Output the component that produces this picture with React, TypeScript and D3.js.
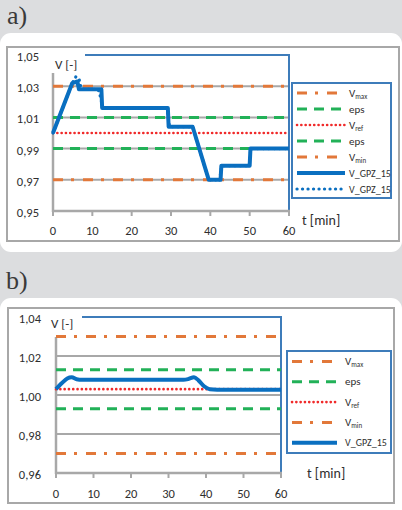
import React from "react";
import * as d3 from "d3";

// ---------- data ----------
const xTicks = [0, 10, 20, 30, 40, 50, 60];
const timeDomain: [number, number] = [0, 60];

// chart a
const yTicksA = [0.95, 0.97, 0.99, 1.01, 1.03, 1.05];
const yLabelsA = ["0,95", "0,97", "0,99", "1,01", "1,03", "1,05"];
const levelsA = [1.03, 1.01, 1.0, 0.99, 0.97];
const tA1 = [0, 4.9, 6.2, 6.6, 12.3, 12.5, 29.2, 29.4, 35.5, 39.6, 42.6, 42.8, 50.0, 50.2, 60];
const vA1 = [1.0, 1.032, 1.033, 1.028, 1.028, 1.016, 1.016, 1.004, 1.004, 0.97, 0.97, 0.979, 0.979, 0.99, 0.99];
const tA2 = [0, 4.9, 5.8, 6.6, 7.2, 11.5, 12.2, 12.6, 29.0, 29.3, 29.6, 35.5, 39.6, 41.5, 42.3, 42.9, 49.9, 50.1, 50.3, 60];
const vA2 = [1.0, 1.032, 1.036, 1.035, 1.028, 1.028, 1.022, 1.016, 1.016, 1.01, 1.004, 1.004, 0.97, 0.97, 0.969, 0.979, 0.979, 0.985, 0.99, 0.99];
const legendA = ["Vmax", "eps", "Vref", "eps", "Vmin", "V_GPZ_15", "V_GPZ_15"];

// chart b
const yTicksB = [0.96, 0.98, 1.0, 1.02, 1.04];
const yLabelsB = ["0,96", "0,98", "1,00", "1,02", "1,04"];
const levelsB = [1.03, 1.013, 1.003, 0.993, 0.97];
const tB = [0, 1.5, 3, 4.2, 5.5, 7, 20, 34, 35.3, 36.8, 38, 39.5, 41, 45, 60];
const vB = [1.003, 1.006, 1.0085, 1.0091, 1.0081, 1.0078, 1.0078, 1.0078, 1.0082, 1.0091, 1.0075, 1.0045, 1.003, 1.0027, 1.0027];
const legendB = ["Vmax", "eps", "Vref", "Vmin", "V_GPZ_15"];

// ---------- styles ----------
const ORANGE = "#e2783a";
const GREEN = "#22b158";
const RED = "#f02a2a";
const BLUE = "#0a6fc0";
const BORDER_BLUE = "#3e7cba";
const GRID = "#a8a8a8";
const FONT = "Carlito, Lato, 'Open Sans', sans-serif";
const TEXT = "#2e2e2e";

type LineStyle = { stroke: string; width: number; dash?: string; cap?: "round" | "butt" };
const styleFor: Record<string, LineStyle> = {
  Vmax: { stroke: ORANGE, width: 3, dash: "10 8 3 9" },
  Vmin: { stroke: ORANGE, width: 3, dash: "10 8 3 9" },
  eps: { stroke: GREEN, width: 3, dash: "10 7" },
  Vref: { stroke: RED, width: 2.6, dash: "0.1 4.2", cap: "round" },
  solid: { stroke: BLUE, width: 4 },
  dotted: { stroke: BLUE, width: 3.2, dash: "0.1 5.4", cap: "round" },
};

type Cfg = {
  frame: [number, number, number, number];
  x0: number; x1: number; yTop: number; yBot: number;
  yDomain: [number, number];
  yTicks: number[]; yLabels: string[];
  levels: number[]; levelNames: string[];
  series: { t: number[]; v: number[]; style: string }[];
  curve: d3.CurveFactory;
  axisStartY: number; borderStartX: number;
  vLabel: [number, number]; tLabel: [number, number];
  yLabelX: number; xLabelDy: number;
  legend: { x: number; y: number; w: number; h: number; row0: number; step: number; s0: number; s1: number; tx: number; names: string[]; styles: string[] };
};

function LegendText({ name, x, y }: { name: string; x: number; y: number }) {
  const m = name.match(/^V(max|min|ref)$/);
  if (m) {
    return (
      <text x={x} y={y} fontFamily={FONT} fontSize={11} fill={TEXT} dominantBaseline="central">
        V<tspan fontSize={7} dy={2.5}>{m[1]}</tspan>
      </text>
    );
  }
  return (
    <text x={x} y={y} fontFamily={FONT} fontSize={name === "eps" ? 11 : 10} fill={TEXT} dominantBaseline="central">
      {name}
    </text>
  );
}

function Chart({ c }: { c: Cfg }) {
  const x = d3.scaleLinear().domain(timeDomain).range([c.x0, c.x1]);
  const y = d3.scaleLinear().domain(c.yDomain).range([c.yBot, c.yTop]);
  const line = d3.line<[number, number]>().x((d) => x(d[0])).y((d) => y(d[1]));
  const cline = d3.line<[number, number]>().x((d) => x(d[0])).y((d) => y(d[1])).curve(c.curve);
  const [fx, fy, fw, fh] = c.frame;
  const sw = (s: LineStyle) => ({
    stroke: s.stroke,
    strokeWidth: s.width,
    strokeDasharray: s.dash,
    strokeLinecap: s.cap ?? "butt",
    fill: "none",
  });
  return (
    <g>
      <rect x={fx} y={fy} width={fw} height={fh} fill="#fff" stroke={GRID} strokeWidth={2} />
      {c.yTicks.slice(1, -1).map((v) => (
        <line key={v} x1={c.x0} x2={c.x1} y1={y(v)} y2={y(v)} stroke={GRID} strokeWidth={2} />
      ))}
      <polyline
        points={`${c.borderStartX},${c.yTop} ${c.x1},${c.yTop} ${c.x1},${c.yBot}`}
        fill="none"
        stroke={BORDER_BLUE}
        strokeWidth={2}
      />
      <line x1={c.x0} x2={c.x0} y1={c.axisStartY} y2={c.yBot + 1} stroke={GRID} strokeWidth={2.5} />
      <line x1={c.x0 - 1} x2={c.x1 + 1} y1={c.yBot} y2={c.yBot} stroke={GRID} strokeWidth={2.5} />
      {xTicks.map((t) => (
        <line key={t} x1={x(t)} x2={x(t)} y1={c.yBot} y2={c.yBot + 5} stroke={GRID} strokeWidth={2} />
      ))}
      {c.yTicks.map((v, i) => (
        <text key={v} x={c.yLabelX} y={y(v) + 1.5} textAnchor="end" dominantBaseline="central" fontFamily={FONT} fontSize={12.5} fill={TEXT}>
          {c.yLabels[i]}
        </text>
      ))}
      {xTicks.map((t) => (
        <text key={t} x={x(t)} y={c.yBot + c.xLabelDy} textAnchor="middle" dominantBaseline="central" fontFamily={FONT} fontSize={12.5} fill={TEXT}>
          {t}
        </text>
      ))}
      <text x={c.vLabel[0]} y={c.vLabel[1]} dominantBaseline="central" fontFamily={FONT} fontSize={13} fill={TEXT}>
        V [-]
      </text>
      <text x={c.tLabel[0]} y={c.tLabel[1]} dominantBaseline="central" fontFamily={FONT} fontSize={14} fill={TEXT}>
        t [min]
      </text>
      {c.levels.map((v, i) => (
        <path
          key={i}
          d={line([[timeDomain[0], v], [timeDomain[1], v]]) ?? ""}
          {...sw(styleFor[c.levelNames[i]])}
        />
      ))}
      {c.series.map((s, i) => (
        <path
          key={i}
          d={cline(s.t.map((t, j) => [t, s.v[j]] as [number, number])) ?? ""}
          strokeLinejoin="round"
          {...sw(styleFor[s.style])}
        />
      ))}
      <rect x={c.legend.x} y={c.legend.y} width={c.legend.w} height={c.legend.h} fill="#fff" stroke={BORDER_BLUE} strokeWidth={2} />
      {c.legend.names.map((n, i) => {
        const ry = c.legend.row0 + i * c.legend.step;
        return (
          <g key={i}>
            <line x1={c.legend.s0} x2={c.legend.s1} y1={ry} y2={ry} {...sw(styleFor[c.legend.styles[i]])} />
            <LegendText name={n} x={c.legend.tx} y={ry} />
          </g>
        );
      })}
    </g>
  );
}

const cfgA: Cfg = {
  frame: [7, 47, 392, 194],
  x0: 53, x1: 289, yTop: 55, yBot: 211,
  yDomain: [0.95, 1.05],
  yTicks: yTicksA, yLabels: yLabelsA,
  levels: levelsA, levelNames: ["Vmax", "eps", "Vref", "eps", "Vmin"],
  series: [
    { t: tA1, v: vA1, style: "solid" },
    { t: tA2, v: vA2, style: "dotted" },
  ],
  curve: d3.curveLinear,
  axisStartY: 73, borderStartX: 85,
  vLabel: [55, 64], tLabel: [302, 220],
  yLabelX: 39, xLabelDy: 19,
  legend: {
    x: 292, y: 83, w: 99, h: 115, row0: 93, step: 16, s0: 297, s1: 345, tx: 349,
    names: legendA,
    styles: ["Vmax", "eps", "Vref", "eps", "Vmin", "solid", "dotted"],
  },
};

const cfgB: Cfg = {
  frame: [8, 308, 386, 195],
  x0: 56, x1: 281, yTop: 317, yBot: 473,
  yDomain: [0.96, 1.04],
  yTicks: yTicksB, yLabels: yLabelsB,
  levels: levelsB, levelNames: ["Vmax", "eps", "Vref", "eps", "Vmin"],
  series: [{ t: tB, v: vB, style: "solid" }],
  curve: d3.curveMonotoneX,
  axisStartY: 337, borderStartX: 82,
  vLabel: [51, 323], tLabel: [307, 473],
  yLabelX: 41, xLabelDy: 20,
  legend: {
    x: 287, y: 351, w: 104, h: 102, row0: 361.5, step: 20.3, s0: 292, s1: 337, tx: 345,
    names: legendB,
    styles: ["Vmax", "eps", "Vref", "Vmin", "solid"],
  },
};

export default function App() {
  return (
    <svg
      width={402}
      height={510}
      viewBox="0 0 402 510"
      style={{ position: "absolute", left: 0, top: 0, display: "block" }}
    >
      <rect x={0} y={0} width={402} height={510} fill="#dcdddf" />
      <rect x={0} y={33} width={402} height={219} rx={11} fill="#fff" />
      <rect x={0} y={298} width={402} height={230} rx={11} fill="#fff" />
      <text x={7} y={24} fontFamily="'Liberation Serif', 'DejaVu Serif', serif" fontSize={26} fill="#3a3a3a">a)</text>
      <text x={6} y={289} fontFamily="'Liberation Serif', 'DejaVu Serif', serif" fontSize={26} fill="#3a3a3a">b)</text>
      <Chart c={cfgA} />
      <Chart c={cfgB} />
    </svg>
  );
}
